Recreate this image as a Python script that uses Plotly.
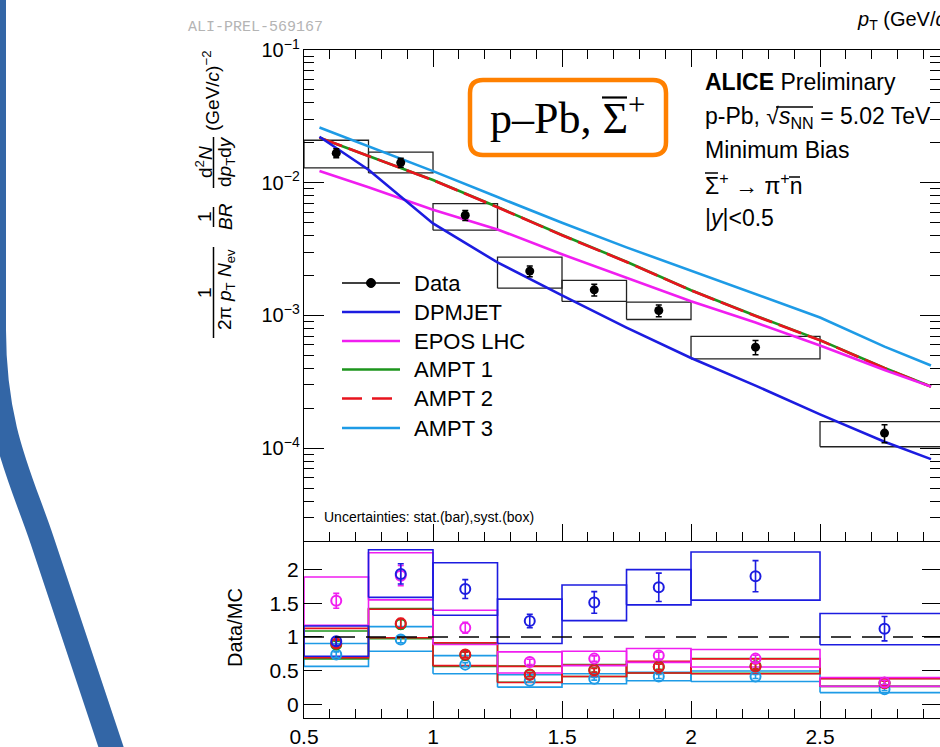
import math
import plotly.graph_objects as go

# ---------------- data ----------------
bin_lo = [0.5, 0.75, 1.0, 1.25, 1.5, 1.75, 2.0, 2.5]
bin_hi = [0.75, 1.0, 1.25, 1.5, 1.75, 2.0, 2.5, 3.0]
pt = [0.625, 0.875, 1.125, 1.375, 1.625, 1.875, 2.25, 2.75]

data_y = [0.0167, 0.01418, 0.00569, 0.00216, 0.00156, 0.00109, 0.000577, 0.000130]
data_stat = [0.0013, 0.0011, 0.0005, 0.0002, 0.00016, 0.00011, 0.00007, 0.00002]
data_syst_lo = [0.01294, 0.01186, 0.00439, 0.001607, 0.001276, 0.000933, 0.000471, 0.0001026]
data_syst_hi = [0.0209, 0.0170, 0.00697, 0.00275, 0.001836, 0.001259, 0.000695, 0.0001585]

model_pt = [0.56, 0.75, 1.0, 1.25, 1.5, 1.75, 2.0, 2.25, 2.5, 2.75, 2.93]
dpmjet = [0.0222, 0.01253, 0.00494, 0.00251, 0.001416, 0.000811, 0.000478, 0.000296, 0.00018, 0.000112, 0.0000828]
epos = [0.01227, 0.00925, 0.00625, 0.00445, 0.00289, 0.00192, 0.00128, 0.000885, 0.000594, 0.000388, 0.000291]
ampt1 = [0.02180, 0.01590, 0.01048, 0.00656, 0.00404, 0.00254, 0.00155, 0.000995, 0.000652, 0.000402, 0.000292]
ampt2 = [0.02188, 0.01592, 0.01045, 0.00653, 0.00402, 0.00253, 0.001545, 0.00099, 0.00065, 0.0004, 0.000291]
ampt3 = [0.0261, 0.01884, 0.01223, 0.0078, 0.00499, 0.00326, 0.00217, 0.00144, 0.000966, 0.000583, 0.000420]

# ratio Data/MC
r_dpmjet = [0.937, 1.933, 1.709, 1.236, 1.510, 1.734, 1.899, 1.122]
r_dpmjet_stat = [0.06, 0.15, 0.14, 0.10, 0.16, 0.21, 0.23, 0.18]
r_dpmjet_lo = [0.713, 1.585, 1.321, 0.903, 1.242, 1.475, 1.545, 0.884]
r_dpmjet_hi = [1.161, 2.291, 2.097, 1.560, 1.769, 1.997, 2.257, 1.346]

r_epos = [1.534, 1.907, 1.137, 0.630, 0.679, 0.724, 0.679, 0.325]
r_epos_stat = [0.11, 0.15, 0.08, 0.04, 0.04, 0.05, 0.05, 0.03]
r_epos_lo = [1.172, 1.549, 0.888, 0.466, 0.575, 0.624, 0.555, 0.270]
r_epos_hi = [1.888, 2.246, 1.396, 0.779, 0.788, 0.828, 0.813, 0.400]

r_ampt1 = [0.888, 1.187, 0.734, 0.445, 0.510, 0.560, 0.570, 0.320]
r_ampt1_stat = [0.05, 0.07, 0.04, 0.03, 0.03, 0.04, 0.04, 0.03]
r_ampt1_lo = [0.675, 0.973, 0.564, 0.330, 0.415, 0.466, 0.460, 0.270]
r_ampt1_hi = [1.087, 1.420, 0.903, 0.570, 0.590, 0.633, 0.680, 0.385]

r_ampt2 = [0.903, 1.201, 0.739, 0.440, 0.505, 0.555, 0.564, 0.316]
r_ampt2_stat = [0.05, 0.07, 0.04, 0.03, 0.03, 0.04, 0.04, 0.03]
r_ampt2_lo = [0.694, 0.988, 0.575, 0.325, 0.415, 0.466, 0.455, 0.266]
r_ampt2_hi = [1.127, 1.410, 0.913, 0.564, 0.585, 0.639, 0.675, 0.381]

r_ampt3 = [0.739, 0.963, 0.590, 0.351, 0.381, 0.415, 0.415, 0.227]
r_ampt3_stat = [0.04, 0.05, 0.03, 0.02, 0.02, 0.03, 0.03, 0.02]
r_ampt3_lo = [0.564, 0.788, 0.455, 0.257, 0.306, 0.351, 0.340, 0.176]
r_ampt3_hi = [0.903, 1.152, 0.724, 0.440, 0.455, 0.475, 0.496, 0.266]

ratio_ticks = [0, 0.5, 1, 1.5, 2]
ratio_ticktext = ["0", "0.5", "1", "1.5", "2"]
x_ticks = [0.5, 1, 1.5, 2, 2.5, 3]
x_ticktext = ["0.5", "1", "1.5", "2", "2.5", "3"]

C_DPM = "#1c1ce0"
C_EPOS = "#f01ef0"
C_A1 = "#1d951d"
C_A2 = "#e8141e"
C_A3 = "#1e9be6"

# ---------------- geometry helpers (pixel -> paper) ----------------
W, H = 940, 747
ML, MR, MT, MB = 304, 0, 50, 29
PW, PH = W - ML - MR, H - MT - MB


def PX(x):
    return (x - ML) / PW


def PY(y):
    return (H - MB - y) / PH


SPLIT = PY(541)
SANS = "Liberation Sans, Arial, Helvetica, sans-serif"
SERIF = "Liberation Serif, Times New Roman, serif"


def box_xy(lo, hi):
    xs, ys = [], []
    for a, b, l, h in zip(bin_lo, bin_hi, lo, hi):
        xs += [a, b, b, a, a, None]
        ys += [l, l, h, h, l, None]
    return xs, ys


fig = go.Figure()

# ---- top panel: systematic boxes
bx, by = box_xy(data_syst_lo, data_syst_hi)
fig.add_trace(go.Scatter(x=bx, y=by, mode="lines", line=dict(color="#222", width=1.3),
                         xaxis="x", yaxis="y", showlegend=False, hoverinfo="skip"))

# ---- model curves
for vals, col, dash in [(ampt1, C_A1, "solid"), (ampt2, C_A2, "24px,7px"),
                        (epos, C_EPOS, "solid"), (dpmjet, C_DPM, "solid"),
                        (ampt3, C_A3, "solid")]:
    fig.add_trace(go.Scatter(x=model_pt, y=vals, mode="lines",
                             line=dict(color=col, width=2.6, dash=dash),
                             xaxis="x", yaxis="y", showlegend=False))

# ---- data points
fig.add_trace(go.Scatter(x=pt, y=data_y, mode="markers",
                         marker=dict(color="black", size=9),
                         error_y=dict(type="data", array=data_stat, color="black",
                                      thickness=1.5, width=3),
                         xaxis="x", yaxis="y", showlegend=False))

# ---- ratio panel
ratio_sets = [
    (r_ampt3, r_ampt3_stat, r_ampt3_lo, r_ampt3_hi, C_A3),
    (r_ampt1, r_ampt1_stat, r_ampt1_lo, r_ampt1_hi, C_A1),
    (r_ampt2, r_ampt2_stat, r_ampt2_lo, r_ampt2_hi, C_A2),
    (r_epos, r_epos_stat, r_epos_lo, r_epos_hi, C_EPOS),
    (r_dpmjet, r_dpmjet_stat, r_dpmjet_lo, r_dpmjet_hi, C_DPM),
]
for vals, st, lo, hi, col in ratio_sets:
    bx, by = box_xy(lo, hi)
    fig.add_trace(go.Scatter(x=bx, y=by, mode="lines", line=dict(color=col, width=1.6),
                             xaxis="x2", yaxis="y2", showlegend=False, hoverinfo="skip"))
for vals, st, lo, hi, col in ratio_sets:
    fig.add_trace(go.Scatter(x=pt, y=vals, mode="markers",
                             marker=dict(symbol="circle-open", size=10, color=col,
                                         line=dict(color=col, width=2)),
                             error_y=dict(type="data", array=st, color=col,
                                          thickness=1.6, width=3),
                             xaxis="x2", yaxis="y2", showlegend=False))

shapes = []
# dashed unity line
shapes.append(dict(type="line", xref="x2", yref="y2", x0=bin_lo[0], x1=bin_hi[-1],
                   y0=1, y1=1, line=dict(color="black", width=1.5, dash="20px,11px")))

# ---- manual legend
leg_rows = [283, 312, 341, 369.5, 398.5, 428]
leg_items = [("Data", "black", "solid"), ("DPMJET", C_DPM, "solid"),
             ("EPOS LHC", C_EPOS, "solid"), ("AMPT 1", C_A1, "solid"),
             ("AMPT 2", C_A2, "20px,10px"), ("AMPT 3", C_A3, "solid")]
annotations = []
for yy, (name, col, dash) in zip(leg_rows, leg_items):
    shapes.append(dict(type="line", xref="paper", yref="paper",
                       x0=PX(342), x1=PX(400), y0=PY(yy), y1=PY(yy),
                       line=dict(color=col, width=1.5 if name == "Data" else 2.6, dash=dash)))
    annotations.append(dict(text=name, x=PX(412), y=PY(yy), xref="paper", yref="paper",
                            xanchor="left", yanchor="middle", showarrow=False,
                            font=dict(family=SANS, size=22, color="black")))
shapes.append(dict(type="circle", xref="paper", yref="paper",
                   x0=PX(366.5), x1=PX(375.5), y0=PY(287.5), y1=PY(278.5),
                   fillcolor="black", line=dict(color="black", width=1)))

# ---- orange rounded box
x0, x1, y0, y1, rr = 470, 666, 80, 155, 13
pts_path = (f"M {PX(x0+rr)},{PY(y0)} L {PX(x1-rr)},{PY(y0)} Q {PX(x1)},{PY(y0)} {PX(x1)},{PY(y0+rr)} "
            f"L {PX(x1)},{PY(y1-rr)} Q {PX(x1)},{PY(y1)} {PX(x1-rr)},{PY(y1)} "
            f"L {PX(x0+rr)},{PY(y1)} Q {PX(x0)},{PY(y1)} {PX(x0)},{PY(y1-rr)} "
            f"L {PX(x0)},{PY(y0+rr)} Q {PX(x0)},{PY(y0)} {PX(x0+rr)},{PY(y0)} Z")
shapes.append(dict(type="path", xref="paper", yref="paper", path=pts_path,
                   line=dict(color="#ff8000", width=4.5), fillcolor="rgba(0,0,0,0)"))

# ---- blue slide arc on the left
arc = (f"M {PX(-6)},{PY(-20)} L {PX(-6)},{PY(330)} "
       f"C {PX(-6)},{PY(430)} {PX(22)},{PY(480)} {PX(42)},{PY(540)} "
       f"L {PX(122)},{PY(780)}")
shapes.append(dict(type="path", xref="paper", yref="paper", path=arc,
                   line=dict(color="#3366a6", width=24), fillcolor="rgba(0,0,0,0)"))

# ---- y-title fraction bars (top panel)
for (ya, yb) in [(247, 338), (207, 227), (137, 188)]:
    shapes.append(dict(type="line", xref="paper", yref="paper",
                       x0=PX(213.5), x1=PX(213.5), y0=PY(ya), y1=PY(yb),
                       line=dict(color="black", width=1.5)))

# ---- overbars (anti-particle bars, square-root bar)
for (xa, xb, yy, wdt) in [(602, 627, 97.5, 2.2),   # Sigma-bar in orange box
                          (705, 718, 173, 1.5),    # Sigma-bar in text block
                          (789, 800, 177, 1.5),    # n-bar
                          (776, 813, 107, 1.3)]:   # sqrt bar
    shapes.append(dict(type="line", xref="paper", yref="paper",
                       x0=PX(xa), x1=PX(xb), y0=PY(yy), y1=PY(yy),
                       line=dict(color="black", width=wdt)))


def ann(text, x, y, size=22, xanchor="left", family=SANS, color="black", angle=0):
    annotations.append(dict(text=text, x=PX(x), y=PY(y), xref="paper", yref="paper",
                            xanchor=xanchor, yanchor="middle", showarrow=False,
                            textangle=angle, font=dict(family=family, size=size, color=color)))


# y-title pieces (rotated)
ann("1", 204, 293, 19, "center", angle=-90)
ann("2π <i>p</i><sub>T</sub> <i>N</i><sub>ev</sub>", 226, 290, 19, "center", angle=-90)
ann("1", 204, 217, 19, "center", angle=-90)
ann("<i>BR</i>", 225, 217, 19, "center", angle=-90)
ann("d<sup>2</sup><i>N</i>", 204, 162, 19, "center", angle=-90)
ann("d<i>p</i><sub>T</sub>d<i>y</i>", 226, 162, 19, "center", angle=-90)
ann("(GeV/<i>c</i>)<sup>−2</sup>", 211, 91, 19, "center", angle=-90)
ann("Data/MC", 235, 628, 20, "center", angle=-90)

# text block
ann("<b>ALICE</b> Preliminary", 703, 82, 23)
ann("p-Pb, √<i>s</i><sub>NN</sub> = 5.02 TeV", 703, 117, 23)
ann("Minimum Bias", 703, 150, 23)
ann("Σ<sup>+</sup> → π<sup>+</sup>n", 703, 184, 23)
ann("|<i>y</i>|&lt;0.5", 703, 218, 23)

ann("p–Pb, Σ<sup>+</sup>", 567, 116, 44, "center", family=SERIF)
ann("Uncertainties: stat.(bar),syst.(box)", 322, 517, 14)
ann("ALI-PREL-569167", 186, 28, 15, family="Liberation Mono, Courier New, monospace", color="#b4b4b4")
ann("<i>p</i><sub>T</sub> (GeV/<i>c</i>)", 855, 20, 20)

axis_common = dict(showgrid=False, zeroline=False, showline=True, linecolor="black",
                   linewidth=1.2, tickcolor="black", tickwidth=1.2, ticks="inside")

fig.update_layout(
    width=W, height=H,
    margin=dict(l=ML, r=MR, t=MT, b=MB),
    paper_bgcolor="white", plot_bgcolor="white",
    showlegend=False,
    font=dict(family=SANS, color="black"),
    xaxis=dict(domain=[0, 1], anchor="y", range=[0.5, 2.965], showticklabels=False,
               tickvals=x_ticks, ticklen=17, mirror="ticks",
               minor=dict(dtick=0.1, tick0=0.5, ticklen=9, ticks="inside",
                          tickcolor="black", tickwidth=1.2),
               **axis_common),
    yaxis=dict(domain=[SPLIT, 1], anchor="x", type="log",
               range=[math.log10(2e-5), -1], dtick=1, exponentformat="power",
               ticklen=20, mirror="ticks", tickfont=dict(size=16, family=SANS),
               minor=dict(dtick="D1", ticklen=10, ticks="inside", tickcolor="black", tickwidth=1.2),
               **axis_common),
    xaxis2=dict(domain=[0, 1], anchor="y2", range=[0.5, 2.965], matches="x",
                tickvals=x_ticks, ticktext=x_ticktext, ticklen=17,
                tickfont=dict(size=21, family=SANS),
                minor=dict(dtick=0.1, tick0=0.5, ticklen=9, ticks="inside",
                           tickcolor="black", tickwidth=1.2),
                **axis_common),
    yaxis2=dict(domain=[0, SPLIT], anchor="x2", range=[-0.2, 2.42],
                tickvals=ratio_ticks, ticktext=ratio_ticktext, ticklen=18,
                mirror="ticks", tickfont=dict(size=21, family=SANS),
                **axis_common),
    shapes=shapes,
    annotations=annotations,
)

fig.write_html("out.html")
